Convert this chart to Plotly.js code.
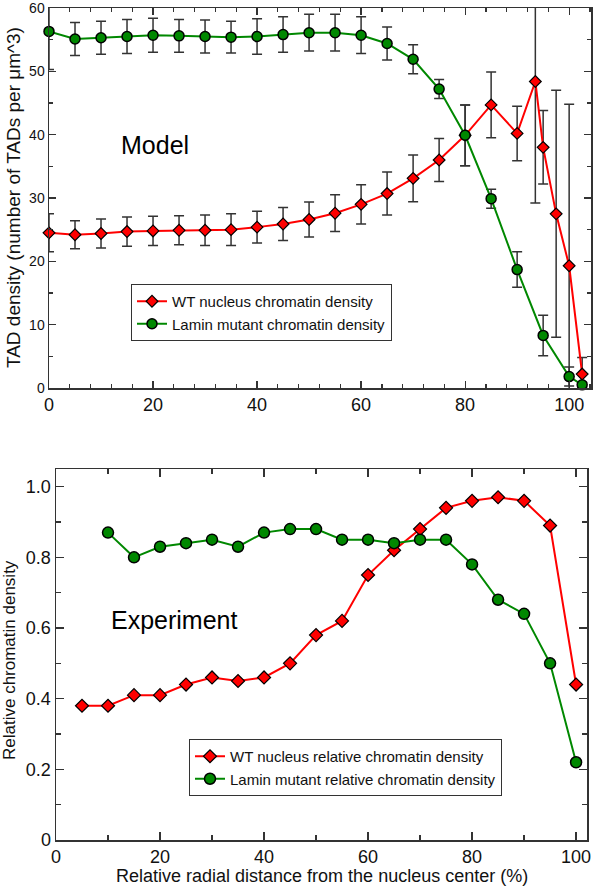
<!DOCTYPE html>
<html>
<head>
<meta charset="utf-8">
<script src="https://cdn.plot.ly/plotly-3.0.1.min.js"></script>
<style>
html,body{margin:0;padding:0;background:#fff;}
#chart{width:596px;height:886px;}
</style>
</head>
<body>
<div id="chart"></div>
<script>
// ---- Model (top panel) ----
const modelWtX = [0,5,10,15,20,25,30,35,40,45,50,55,60,65,70,75,80,85,90,93.5,95,97.5,100,102.5];
const modelWtY = [24.5,24.2,24.4,24.7,24.8,24.9,24.9,25.0,25.4,25.9,26.6,27.6,29.0,30.7,33.1,36.0,39.9,44.7,40.2,48.4,38.0,27.5,19.3,2.2];
const modelWtErr = [3.0,2.2,2.3,2.3,2.3,2.3,2.4,2.5,2.5,2.6,2.75,2.9,3.1,3.4,3.7,3.4,4.8,5.2,4.3,19.2,5.8,19.5,25.5,2.6];

const modelMutX = [0,5,10,15,20,25,30,35,40,45,50,55,60,65,70,75,80,85,90,95,100,102.5];
const modelMutY = [56.3,55.1,55.3,55.5,55.7,55.6,55.5,55.4,55.5,55.8,56.1,56.1,55.7,54.4,51.9,47.2,39.9,29.9,18.7,8.3,1.8,0.5];
const modelMutErr = [6.0,2.6,2.6,2.7,2.7,2.6,2.6,2.5,2.8,2.8,2.9,2.9,2.9,2.6,2.3,1.5,4.8,1.5,2.8,3.2,1.5,0.4];

// ---- Experiment (bottom panel) ----
const expWtX = [5,10,15,20,25,30,35,40,45,50,55,60,65,70,75,80,85,90,95,100];
const expWtY = [0.38,0.38,0.41,0.41,0.44,0.46,0.45,0.46,0.50,0.58,0.62,0.75,0.82,0.88,0.94,0.96,0.97,0.96,0.89,0.44];
const expMutX = [10,15,20,25,30,35,40,45,50,55,60,65,70,75,80,85,90,95,100];
const expMutY = [0.87,0.80,0.83,0.84,0.85,0.83,0.87,0.88,0.88,0.85,0.85,0.84,0.85,0.85,0.78,0.68,0.64,0.50,0.22];

const names = {
  modelWt: "WT nucleus chromatin density",
  modelMut: "Lamin mutant chromatin density",
  expWt: "WT nucleus relative chromatin density",
  expMut: "Lamin mutant relative chromatin density"
};
const bottomYTicks = [0,0.2,0.4,0.6,0.8,1.0];
const bottomYTickText = ["0","0.2","0.4","0.6","0.8","1.0"];

const RED = "#ff0000", GREEN = "#008800", FONT = "Liberation Sans, Arial, Helvetica, sans-serif";
const errStyle = {type:"data", visible:true, color:"#333333", thickness:1.5, width:5};

const traces = [
  {x:modelWtX, y:modelWtY, name:names.modelWt, type:"scatter", mode:"lines+markers",
   xaxis:"x", yaxis:"y", legend:"legend", cliponaxis:false,
   error_y:Object.assign({array:modelWtErr}, errStyle),
   line:{color:RED, width:2},
   marker:{symbol:"diamond", size:9, color:RED, line:{color:"#000", width:1.2}}},
  {x:modelMutX, y:modelMutY, name:names.modelMut, type:"scatter", mode:"lines+markers",
   xaxis:"x", yaxis:"y", legend:"legend", cliponaxis:false,
   error_y:Object.assign({array:modelMutErr}, errStyle),
   line:{color:GREEN, width:2},
   marker:{symbol:"circle", size:10, color:GREEN, line:{color:"#000", width:1.5}}},
  {x:expWtX, y:expWtY, name:names.expWt, type:"scatter", mode:"lines+markers",
   xaxis:"x2", yaxis:"y2", legend:"legend2", cliponaxis:false,
   line:{color:RED, width:2},
   marker:{symbol:"diamond", size:10, color:RED, line:{color:"#000", width:1.2}}},
  {x:expMutX, y:expMutY, name:names.expMut, type:"scatter", mode:"lines+markers",
   xaxis:"x2", yaxis:"y2", legend:"legend2", cliponaxis:false,
   line:{color:GREEN, width:2},
   marker:{symbol:"circle", size:11, color:GREEN, line:{color:"#000", width:1.5}}}
];

const W = 596, H = 886;
const px = v => v / W;
const py = v => (H - v) / H;

const axBase = {showgrid:false, zeroline:false, showline:true, linecolor:"#333", linewidth:1.5,
  mirror:"allticks", ticks:"inside", tickcolor:"#333", tickwidth:1.2, automargin:false,
  ticklabeloverflow:"allow",
  tickfont:{family:FONT, size:18, color:"#111"}};

const layout = {
  width:W, height:H, margin:{l:0,r:0,t:0,b:0},
  paper_bgcolor:"#fff", plot_bgcolor:"#fff",
  font:{family:FONT, color:"#111"},
  xaxis: Object.assign({}, axBase, {domain:[px(49), px(591)], range:[0,104.2], anchor:"y",
    dtick:20, tick0:0, ticklen:7, minor:{dtick:4, tick0:0, ticklen:4, ticks:"inside", tickcolor:"#333"}}),
  yaxis: Object.assign({}, axBase, {domain:[py(388), py(8)], range:[0,60], anchor:"x",
    dtick:10, tick0:0, ticklen:7, tickfont:{family:FONT, size:14, color:"#111"},
    minor:{dtick:5, tick0:0, ticklen:4, ticks:"inside", tickcolor:"#333"}}),
  xaxis2: Object.assign({}, axBase, {domain:[px(56), px(587)], range:[0,102.1], anchor:"y2",
    dtick:20, tick0:0, ticklen:8, minor:{dtick:10, tick0:0, ticklen:5, ticks:"inside", tickcolor:"#333"}}),
  yaxis2: Object.assign({}, axBase, {domain:[py(840), py(469)], range:[0,1.05], anchor:"x2",
    tickmode:"array", tickvals:bottomYTicks, ticktext:bottomYTickText, ticklen:8,
    minor:{dtick:0.1, tick0:0, ticklen:5, ticks:"inside", tickcolor:"#333"}}),
  legend:{x:px(131), y:py(284), xanchor:"left", yanchor:"top", bgcolor:"#fff",
    bordercolor:"#333", borderwidth:1, font:{family:FONT, size:15, color:"#111"}, tracegroupgap:0},
  legend2:{x:px(189), y:py(739), xanchor:"left", yanchor:"top", bgcolor:"#fff",
    bordercolor:"#333", borderwidth:1, font:{family:FONT, size:15, color:"#111"}, tracegroupgap:0},
  showlegend:true,
  annotations:[
    {text:"Model", xref:"paper", yref:"paper", x:px(155), y:py(145), xanchor:"center", yanchor:"middle",
     showarrow:false, font:{family:FONT, size:25, color:"#000"}},
    {text:"Experiment", xref:"paper", yref:"paper", x:px(174), y:py(620), xanchor:"center", yanchor:"middle",
     showarrow:false, font:{family:FONT, size:25, color:"#000"}},
    {text:"TAD density (number of TADs per μm^3)", xref:"paper", yref:"paper", x:px(13), y:py(198),
     xanchor:"center", yanchor:"middle", textangle:-90, showarrow:false,
     font:{family:FONT, size:19, color:"#111"}},
    {text:"Relative chromatin density", xref:"paper", yref:"paper", x:px(9), y:py(660),
     xanchor:"center", yanchor:"middle", textangle:-90, showarrow:false,
     font:{family:FONT, size:17, color:"#111"}},
    {text:"Relative radial distance from the nucleus center (%)", xref:"paper", yref:"paper",
     x:px(321.5), y:py(876), xanchor:"center", yanchor:"middle", showarrow:false,
     font:{family:FONT, size:18, color:"#111"}}
  ]
};

Plotly.newPlot("chart", traces, layout, {staticPlot:true, displayModeBar:false});
</script>
</body>
</html>
